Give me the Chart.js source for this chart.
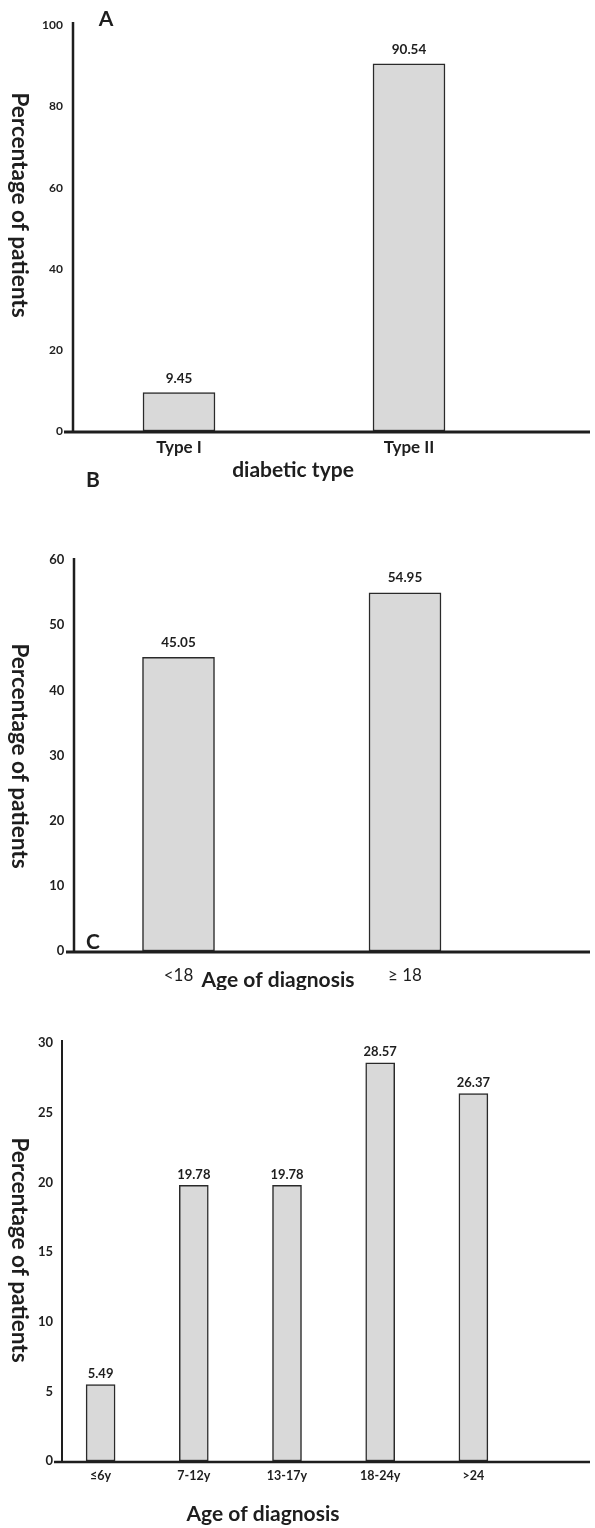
<!DOCTYPE html>
<html>
<head>
<meta charset="utf-8">
<script src="https://cdn.jsdelivr.net/npm/chart.js@4.4.0/dist/chart.umd.min.js"></script>
<style>
  body { margin: 0; background: #fff; width: 595px; height: 1528px; position: relative; overflow: hidden; }
  canvas { position: absolute; left: 0; }
</style>
</head>
<body>
<canvas id="chartA" style="top:0" width="595" height="490"></canvas>
<canvas id="chartB" style="top:490px" width="595" height="500"></canvas>
<canvas id="chartC" style="top:990px" width="595" height="538"></canvas>
<script>
// panel A
const diabeticTypes = ["Type I", "Type II"];
const diabeticPct = [9.45, 90.54];
const yTicksA = { max: 100, step: 20 };

// panel B
const ageGroups = ["<18", "≥ 18"];
const ageGroupPct = [45.05, 54.95];
const yTicksB = { max: 60, step: 10 };

// panel C
const ageRanges = ["≤6y", "7-12y", "13-17y", "18-24y", ">24"];
const ageRangePct = [5.49, 19.78, 19.78, 28.57, 26.37];
const yTicksC = { max: 30, step: 5 };

const FONT = "Lato, 'Liberation Sans', sans-serif";
const INK = "#1e1e1e";

// axis lines, value labels and free text (titles, panel letters)
const decor = {
  id: "decor",
  afterDraw(chart, args, opts) {
    const ctx = chart.ctx;
    ctx.save();
    ctx.strokeStyle = INK;
    ctx.lineWidth = opts.yLineWidth;
    ctx.beginPath();
    ctx.moveTo(opts.yLineX, opts.yLineTop);
    ctx.lineTo(opts.yLineX, opts.xLineY);
    ctx.stroke();
    ctx.lineWidth = opts.xLineWidth;
    ctx.beginPath();
    ctx.moveTo(opts.xLineStart, opts.xLineY);
    ctx.lineTo(opts.xLineEnd, opts.xLineY);
    ctx.stroke();

    const values = chart.data.datasets[0].data;
    ctx.fillStyle = INK;
    ctx.font = opts.valueFont;
    ctx.textAlign = "center";
    ctx.textBaseline = "middle";
    chart.getDatasetMeta(0).data.forEach((bar, i) => {
      ctx.fillText(values[i].toFixed(2), bar.x, bar.y - opts.valueGap);
    });

    opts.texts.forEach((t) => {
      ctx.save();
      ctx.font = t.font;
      ctx.translate(t.x, t.y);
      if (t.rotate) ctx.rotate(Math.PI / 2);
      ctx.fillText(t.text, 0, 0);
      ctx.restore();
    });
    ctx.restore();
  },
};

function makeChart(canvas, labels, values, p) {
  return new Chart(canvas, {
    type: "bar",
    data: {
      labels: labels,
      datasets: [
        {
          data: values,
          backgroundColor: "#d9d9d9",
          borderColor: "#2a2a2a",
          borderWidth: p.barBorder,
          borderSkipped: false,
          barThickness: p.barWidth,
        },
      ],
    },
    options: {
      responsive: false,
      animation: false,
      layout: { padding: p.padding },
      plugins: {
        legend: { display: false },
        tooltip: { enabled: false },
        decor: p.decor,
      },
      scales: {
        x: {
          grid: { display: false, drawTicks: false },
          border: { display: false },
          ticks: {
            font: p.xFont,
            color: INK,
            padding: p.xPad,
            maxRotation: 0,
            autoSkip: false,
          },
          afterFit: (s) => { s.height = p.xHeight; },
        },
        y: {
          min: 0,
          max: p.yTicks.max,
          grid: { display: false, drawTicks: false },
          border: { display: false },
          ticks: {
            stepSize: p.yTicks.step,
            font: p.yFont,
            color: INK,
            padding: 1,
          },
          afterFit: (s) => { s.width = 40; },
        },
      },
    },
    plugins: [decor],
  });
}

window.onload = () => {
  makeChart(chartA, diabeticTypes, diabeticPct, {
    yTicks: yTicksA,
    barWidth: 72,
    barBorder: 1.5,
    padding: { left: 24, right: 71, top: 25.5, bottom: 19 },
    xHeight: 40,
    xPad: 6,
    xFont: { family: FONT, size: 17, weight: "bold" },
    yFont: { family: FONT, size: 12, weight: "bold" },
    decor: {
      yLineX: 73, yLineTop: 22, yLineWidth: 2.5,
      xLineStart: 64, xLineEnd: 590, xLineY: 432, xLineWidth: 3,
      valueFont: "bold 13.5px " + FONT, valueGap: 14,
      texts: [
        { text: "A", x: 106, y: 19, font: "bold 21px " + FONT },
        { text: "B", x: 93, y: 480, font: "bold 21px " + FONT },
        { text: "diabetic type", x: 293, y: 470, font: "bold 21px " + FONT },
        { text: "Percentage of patients", x: 19, y: 205, rotate: true, font: "bold 22.5px " + FONT },
      ],
    },
  });

  makeChart(chartB, ageGroups, ageGroupPct, {
    yTicks: yTicksB,
    barWidth: 72,
    barBorder: 1.5,
    padding: { left: 25.25, right: 76.75, top: 70, bottom: 9 },
    xHeight: 30,
    xPad: 14,
    xFont: { family: FONT, size: 17 },
    yFont: { family: FONT, size: 13, weight: "bold" },
    decor: {
      yLineX: 74, yLineTop: 68, yLineWidth: 2.5,
      xLineStart: 66, xLineEnd: 590, xLineY: 462, xLineWidth: 3,
      valueFont: "bold 13.5px " + FONT, valueGap: 15,
      texts: [
        { text: "C", x: 93, y: 452, font: "bold 21px " + FONT },
        { text: "Age of diagnosis", x: 278, y: 490, font: "bold 21px " + FONT },
        { text: "Percentage of patients", x: 19, y: 266, rotate: true, font: "bold 22.5px " + FONT },
      ],
    },
  });

  makeChart(chartC, ageRanges, ageRangePct, {
    yTicks: yTicksC,
    barWidth: 29,
    barBorder: 1.5,
    padding: { left: 14, right: 75, top: 53, bottom: 37 },
    xHeight: 30,
    xPad: 7,
    xFont: { family: FONT, size: 12.5, weight: "bold" },
    yFont: { family: FONT, size: 13, weight: "bold" },
    decor: {
      yLineX: 62, yLineTop: 50, yLineWidth: 2,
      xLineStart: 54, xLineEnd: 590, xLineY: 472, xLineWidth: 2.5,
      valueFont: "bold 13px " + FONT, valueGap: 11,
      texts: [
        { text: "Age of diagnosis", x: 263, y: 524, font: "bold 21px " + FONT },
        { text: "Percentage of patients", x: 19, y: 260, rotate: true, font: "bold 22.5px " + FONT },
      ],
    },
  });
};
</script>
</body>
</html>
